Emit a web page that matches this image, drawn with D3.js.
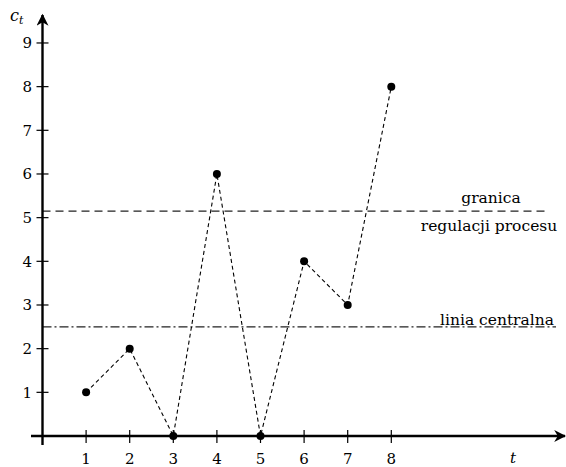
<!DOCTYPE html>
<html>
<head>
<meta charset="utf-8">
<script src="https://cdn.jsdelivr.net/npm/d3@7"></script>
<style>
  html, body { margin: 0; padding: 0; background: #fff; }
  svg { display: block; }
</style>
</head>
<body>
<svg id="chart" width="566" height="467"></svg>
<script>
// Process observations c_t over time t
const periods = [1, 2, 3, 4, 5, 6, 7, 8];
const counts = [1, 2, 0, 6, 0, 4, 3, 8];
const xTickValues = [1, 2, 3, 4, 5, 6, 7, 8];
const yTickValues = [1, 2, 3, 4, 5, 6, 7, 8, 9];
const controlLimit = 5.15;   // granica regulacji procesu
const centerLine = 2.5;      // linia centralna

const FONT = "'DejaVu Serif', 'Noto Serif', 'Liberation Serif', serif";

const svg = d3.select("#chart")
  .attr("font-family", FONT);

const x = d3.scaleLinear().domain([0, 8]).range([42.5, 42.5 + 8 * 43.6]);
const y = d3.scaleLinear().domain([0, 9]).range([436, 436 - 9 * 43.67]);

// arrow head
svg.append("defs").append("marker")
  .attr("id", "arrow").attr("viewBox", "0 0 10 10")
  .attr("refX", 9).attr("refY", 5)
  .attr("markerWidth", 14).attr("markerHeight", 12)
  .attr("markerUnits", "userSpaceOnUse")
  .attr("orient", "auto")
  .append("path").attr("d", "M0,0 L10,5 L0,10 L3,5 Z").attr("fill", "#000");

// reference lines
svg.append("line")
  .attr("x1", x(0)).attr("x2", 548)
  .attr("y1", y(controlLimit)).attr("y2", y(controlLimit))
  .attr("stroke", "#222").attr("stroke-width", 1.2)
  .attr("stroke-dasharray", "8,5");

svg.append("line")
  .attr("x1", x(0)).attr("x2", 556)
  .attr("y1", y(centerLine)).attr("y2", y(centerLine))
  .attr("stroke", "#222").attr("stroke-width", 1.2)
  .attr("stroke-dasharray", "9,3,2,3");

// axes
svg.append("line")
  .attr("x1", 31).attr("x2", 565)
  .attr("y1", y(0)).attr("y2", y(0))
  .attr("stroke", "#000").attr("stroke-width", 2.4)
  .attr("marker-end", "url(#arrow)");

svg.append("line")
  .attr("x1", x(0)).attr("x2", x(0))
  .attr("y1", 445).attr("y2", 15)
  .attr("stroke", "#000").attr("stroke-width", 2.4)
  .attr("marker-end", "url(#arrow)");

// x ticks and labels
const xt = svg.append("g").selectAll("g").data(xTickValues).join("g")
  .attr("transform", d => `translate(${x(d)},0)`);
xt.append("line").attr("y1", y(0) - 6).attr("y2", y(0) + 7)
  .attr("stroke", "#000").attr("stroke-width", 1.2);
xt.append("text").attr("y", 463.5).attr("text-anchor", "middle")
  .attr("font-family", FONT).attr("font-size", 15).text(d => d);

// y ticks and labels
const yt = svg.append("g").selectAll("g").data(yTickValues).join("g")
  .attr("transform", d => `translate(0,${y(d)})`);
yt.append("line").attr("x1", x(0) - 6).attr("x2", x(0) + 6)
  .attr("stroke", "#000").attr("stroke-width", 1.2);
yt.append("text").attr("x", 32).attr("y", 5.5).attr("text-anchor", "end")
  .attr("font-family", FONT).attr("font-size", 15).text(d => d);

// axis titles
const ct = svg.append("text").attr("x", 10).attr("y", 21)
  .attr("font-family", FONT).attr("font-size", 16).attr("font-style", "italic");
ct.append("tspan").text("c");
ct.append("tspan").attr("font-size", 11).attr("dy", 3).text("t");

svg.append("text").attr("x", 510).attr("y", 463)
  .attr("font-family", FONT).attr("font-size", 15).attr("font-style", "italic").text("t");

// reference line labels
svg.append("text").attr("x", 491).attr("y", 203).attr("text-anchor", "middle")
  .attr("font-family", FONT).attr("font-size", 15.5).text("granica");
svg.append("text").attr("x", 489).attr("y", 231).attr("text-anchor", "middle")
  .attr("font-family", FONT).attr("font-size", 15.5).text("regulacji procesu");
svg.append("text").attr("x", 497).attr("y", 325).attr("text-anchor", "middle")
  .attr("font-family", FONT).attr("font-size", 15.5).text("linia centralna");

// series
const pts = periods.map((p, i) => [p, counts[i]]);
svg.append("path")
  .datum(pts)
  .attr("d", d3.line().x(d => x(d[0])).y(d => y(d[1])))
  .attr("fill", "none").attr("stroke", "#000")
  .attr("stroke-width", 1.1).attr("stroke-dasharray", "4,3");

svg.append("g").selectAll("circle").data(pts).join("circle")
  .attr("cx", d => x(d[0])).attr("cy", d => y(d[1])).attr("r", 4)
  .attr("fill", "#000");
</script>
</body>
</html>
